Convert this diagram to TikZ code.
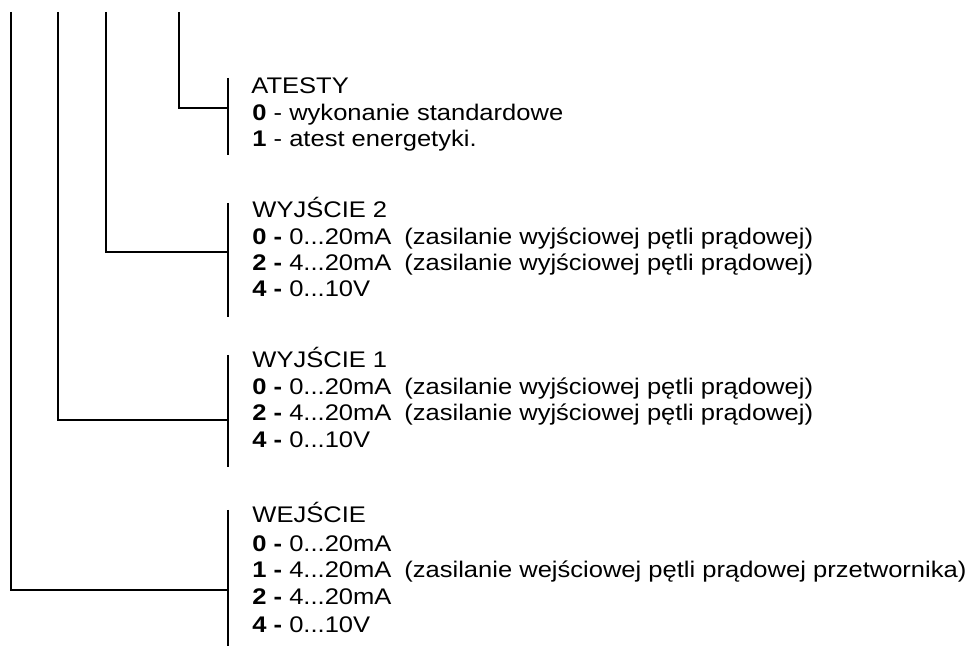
\documentclass[tikz,border=0pt]{standalone}
\usepackage{fontspec}
\setmainfont{Liberation Sans}[FakeStretch=1.13]
\usetikzlibrary{positioning}
\tikzset{
  wire/.style={line width=1pt},
  txt/.style={anchor=base west, inner sep=0pt, font=\fontsize{11.3}{13}\selectfont}
}

\begin{document}
\begin{tikzpicture}[x=0.5pt,y=-0.5pt]
\useasboundingbox (0,0) rectangle (971,646);

% code digits (top)
\coordinate (d1) at (11,12);
\coordinate (d2) at (58,12);
\coordinate (d3) at (106,12);
\coordinate (d4) at (179,12);

% ATESTY
\node[txt] (at)  at (251,94)  {ATESTY};
\node[txt] (at0) at (252,121) {\textbf{0} - wykonanie standardowe};
\node[txt] (at1) at (252,147) {\textbf{1} - atest energetyki.};
\coordinate (atT) at (228,78);
\coordinate (atB) at (228,155);
\coordinate (atJ) at (228,108);

% WYJSCIE 2
\node[txt] (wy2)  at (252,218) {WYJŚCIE 2};
\node[txt] (wy2a) at (252,245) {\textbf{0 -} 0...20mA};
\node[txt] (wy2b) at (252,271) {\textbf{2 -} 4...20mA};
\node[txt] (wy2c) at (252,297) {\textbf{4 -} 0...10V};
\node[txt] (wy2x) at (404,245) {(zasilanie wyjściowej pętli prądowej)};
\node[txt] (wy2y) at (404,271) {(zasilanie wyjściowej pętli prądowej)};
\coordinate (wy2T) at (228,203);
\coordinate (wy2B) at (228,317);
\coordinate (wy2J) at (228,252);

% WYJSCIE 1
\node[txt] (wy1)  at (252,368) {WYJŚCIE 1};
\node[txt] (wy1a) at (252,395) {\textbf{0 -} 0...20mA};
\node[txt] (wy1b) at (252,421) {\textbf{2 -} 4...20mA};
\node[txt] (wy1c) at (252,448) {\textbf{4 -} 0...10V};
\node[txt] (wy1x) at (404,395) {(zasilanie wyjściowej pętli prądowej)};
\node[txt] (wy1y) at (404,421) {(zasilanie wyjściowej pętli prądowej)};
\coordinate (wy1T) at (228,355);
\coordinate (wy1B) at (228,467);
\coordinate (wy1J) at (228,420);

% WEJSCIE
\node[txt] (we)  at (252,523) {WEJŚCIE};
\node[txt] (wea) at (252,552) {\textbf{0 -} 0...20mA};
\node[txt] (web) at (252,578) {\textbf{1 -} 4...20mA};
\node[txt] (wec) at (252,605) {\textbf{2 -} 4...20mA};
\node[txt] (wed) at (252,633) {\textbf{4 -} 0...10V};
\node[txt] (wex) at (404,578) {(zasilanie wejściowej pętli prądowej przetwornika)};
\coordinate (weT) at (228,510);
\coordinate (weB) at (228,646);
\coordinate (weJ) at (228,590);

\draw[wire] (atT) -- (atB);
\draw[wire] (wy2T) -- (wy2B);
\draw[wire] (wy1T) -- (wy1B);
\draw[wire] (weT) -- (weB);

\draw[wire] (d4) |- (atJ);
\draw[wire] (d3) |- (wy2J);
\draw[wire] (d2) |- (wy1J);
\draw[wire] (d1) |- (weJ);

\end{tikzpicture}
\end{document}
